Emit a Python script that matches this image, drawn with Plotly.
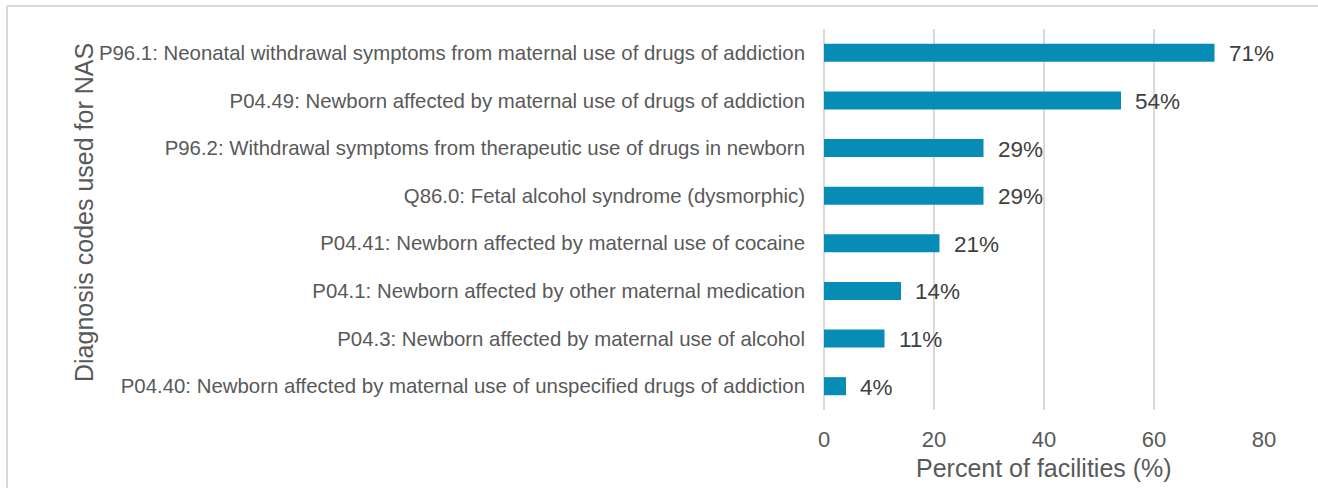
import plotly.graph_objects as go

# Diagnosis codes and share of facilities using each (%)
codes = [
    "P96.1: Neonatal withdrawal symptoms from maternal use of drugs of addiction",
    "P04.49: Newborn affected by maternal use of drugs of addiction",
    "P96.2: Withdrawal symptoms from therapeutic use of drugs in newborn",
    "Q86.0: Fetal alcohol syndrome (dysmorphic)",
    "P04.41: Newborn affected by maternal use of cocaine",
    "P04.1: Newborn affected by other maternal medication",
    "P04.3: Newborn affected by maternal use of alcohol",
    "P04.40: Newborn affected by maternal use of unspecified drugs of addiction",
]
percents = [71, 54, 29, 29, 21, 14, 11, 4]
x_ticks = [0, 20, 40, 60, 80]

FONT = "Liberation Sans, Arial, sans-serif"
BAR_COLOR = "#078DB5"
GRID = "#D9D9D9"

fig = go.Figure()
fig.add_trace(go.Bar(
    x=percents,
    y=codes,
    orientation="h",
    width=0.38,
    marker=dict(color=BAR_COLOR, line=dict(width=0)),
    hoverinfo="skip",
))

# value labels just right of each bar
for code, pct in zip(codes, percents):
    fig.add_annotation(
        x=pct, y=code, xref="x", yref="y",
        text=f"{pct}%", showarrow=False,
        xanchor="left", yanchor="middle", xshift=12, yshift=-1,
        font=dict(family=FONT, size=22.5, color="#404040"),
    )

# axis titles
fig.add_annotation(
    x=(84 - 824) / 440, y=(410 - 213) / 381, xref="paper", yref="paper",
    text="Diagnosis codes used for NAS", showarrow=False, textangle=-90,
    xanchor="center", yanchor="middle",
    font=dict(family=FONT, size=25, color="#595959"),
)
fig.add_annotation(
    x=0.5, y=-0.153, xref="paper", yref="paper",
    text="Percent of facilities (%)", showarrow=False,
    xanchor="center", yanchor="middle",
    font=dict(family=FONT, size=25, color="#595959"),
)

# chart frame (left and top edges)
fig.add_shape(type="line", xref="paper", yref="paper",
              x0=(7 - 824) / 440, x1=(1330 - 824) / 440,
              y0=(410 - 6) / 381, y1=(410 - 6) / 381,
              line=dict(color="#D9D9D9", width=2))
fig.add_shape(type="line", xref="paper", yref="paper",
              x0=(7 - 824) / 440, x1=(7 - 824) / 440,
              y0=(410 - 6) / 381, y1=(410 - 500) / 381,
              line=dict(color="#D9D9D9", width=2))

fig.update_layout(
    width=1318, height=488,
    margin=dict(l=824, r=54, t=29, b=78),
    paper_bgcolor="white", plot_bgcolor="white",
    showlegend=False,
    font=dict(family=FONT, color="#595959"),
)
fig.update_xaxes(
    range=[0, 80], tickvals=x_ticks, ticktext=[str(v) for v in x_ticks],
    showgrid=True, gridcolor=GRID, gridwidth=2,
    zeroline=True, zerolinecolor=GRID, zerolinewidth=2,
    showline=False, ticks="", ticklabelstandoff=14,
    tickfont=dict(family=FONT, size=22, color="#595959"),
)
fig.update_yaxes(
    autorange="reversed", showgrid=False, showline=False, ticks="",
    ticklabelstandoff=18,
    tickfont=dict(family=FONT, size=20.4, color="#595959"),
)

fig.write_html("out.html")
